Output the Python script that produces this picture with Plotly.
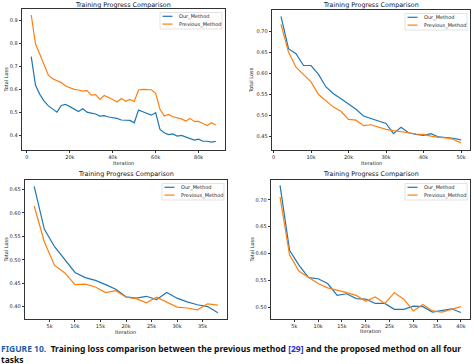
import plotly.graph_objects as go

W, H = 474, 364

# ---------------- data ----------------
p1_iter = [2000, 4000, 6000, 8000, 10000, 12000, 14000, 16000, 18000, 20000, 22000,
           24000, 26000, 28000, 30000, 32000, 34000, 36000, 38000, 40000, 42000, 44000,
           46000, 48000, 50000, 52000, 54000, 56000, 58000, 60000, 62000, 64000, 66000,
           68000, 70000, 72000, 74000, 76000, 78000, 80000, 82000, 84000, 86000, 88000]
p1_ours = [0.742, 0.617, 0.578, 0.549, 0.528, 0.516, 0.501, 0.530, 0.535, 0.525, 0.516,
           0.504, 0.516, 0.501, 0.497, 0.493, 0.484, 0.486, 0.480, 0.477, 0.474, 0.467,
           0.467, 0.465, 0.455, 0.510, 0.503, 0.496, 0.488, 0.499, 0.426, 0.412, 0.404,
           0.407, 0.397, 0.400, 0.393, 0.388, 0.380, 0.384, 0.375, 0.375, 0.371, 0.374]
p1_prev = [0.922, 0.796, 0.752, 0.704, 0.661, 0.646, 0.638, 0.629, 0.614, 0.607, 0.600,
           0.597, 0.592, 0.594, 0.575, 0.577, 0.556, 0.573, 0.566, 0.556, 0.545, 0.560,
           0.548, 0.556, 0.547, 0.597, 0.600, 0.600, 0.598, 0.583, 0.513, 0.484, 0.491,
           0.481, 0.477, 0.472, 0.462, 0.474, 0.461, 0.461, 0.452, 0.443, 0.455, 0.445]

p2_iter = [2000, 4000, 6000, 8000, 10000, 12000, 14000, 16000, 18000, 20000, 22000, 24000,
           26000, 28000, 30000, 32000, 34000, 36000, 38000, 40000, 42000, 44000, 46000,
           48000, 50000]
p2_ours = [0.735, 0.658, 0.646, 0.618, 0.618, 0.597, 0.567, 0.551, 0.539, 0.526, 0.514,
           0.498, 0.492, 0.486, 0.480, 0.456, 0.471, 0.458, 0.454, 0.452, 0.456, 0.448,
           0.447, 0.445, 0.441]
p2_prev = [0.716, 0.650, 0.614, 0.597, 0.579, 0.549, 0.535, 0.519, 0.509, 0.490, 0.488,
           0.475, 0.477, 0.472, 0.466, 0.463, 0.461, 0.458, 0.455, 0.454, 0.450, 0.447,
           0.446, 0.442, 0.434]

p3_iter = [2000, 4000, 6000, 8000, 10000, 12000, 14000, 16000, 18000, 20000, 22000, 24000,
           26000, 28000, 30000, 32000, 34000, 36000, 38000]
p3_ours = [0.657, 0.565, 0.528, 0.500, 0.473, 0.462, 0.456, 0.447, 0.437, 0.421, 0.418,
           0.422, 0.415, 0.430, 0.418, 0.410, 0.404, 0.400, 0.387]
p3_prev = [0.615, 0.538, 0.488, 0.472, 0.447, 0.448, 0.442, 0.430, 0.434, 0.420, 0.417,
           0.408, 0.420, 0.410, 0.399, 0.397, 0.393, 0.406, 0.403]

p4_iter = [2000, 4000, 6000, 8000, 10000, 12000, 14000, 16000, 18000, 20000, 22000, 24000,
           26000, 28000, 30000, 32000, 34000, 36000, 38000, 40000]
p4_ours = [0.727, 0.606, 0.578, 0.555, 0.553, 0.544, 0.522, 0.525, 0.516, 0.515, 0.507,
           0.507, 0.496, 0.496, 0.502, 0.501, 0.491, 0.494, 0.497, 0.490]
p4_prev = [0.705, 0.597, 0.567, 0.555, 0.544, 0.536, 0.532, 0.527, 0.522, 0.511, 0.519,
           0.507, 0.527, 0.515, 0.493, 0.505, 0.493, 0.491, 0.496, 0.501]

series_names = ["Our_Method", "Previous_Method"]
chart_title = "Training Progress Comparison"
x_label = "Iteration"
y_label = "Total Loss"

p1_xticks = [0, 20000, 40000, 60000, 80000]
p1_xtext = ["0", "20k", "40k", "60k", "80k"]
p2_xticks = [0, 10000, 20000, 30000, 40000, 50000]
p2_xtext = ["0", "10k", "20k", "30k", "40k", "50k"]
p3_xticks = [5000, 10000, 15000, 20000, 25000, 30000, 35000]
p3_xtext = ["5k", "10k", "15k", "20k", "25k", "30k", "35k"]
p4_xticks = [5000, 10000, 15000, 20000, 25000, 30000, 35000, 40000]
p4_xtext = ["5k", "10k", "15k", "20k", "25k", "30k", "35k", "40k"]
p1_yticks = [0.4, 0.5, 0.6, 0.7, 0.8, 0.9]
p2_yticks = [0.45, 0.50, 0.55, 0.60, 0.65, 0.70]
p3_yticks = [0.40, 0.45, 0.50, 0.55, 0.60, 0.65]
p4_yticks = [0.50, 0.55, 0.60, 0.65, 0.70]

caption_head = "FIGURE 10."
caption_body = "Training loss comparison between the previous method [29] and the proposed method on all four"
caption_tail = "tasks"

# ---------------- layout ----------------
BLUE = "#1f77b4"
ORANGE = "#ff7f0e"
FONT = "DejaVu Sans"


def fx(px):
    return px / W


def fy(py):
    return 1 - py / H


panels = [
    dict(it=p1_iter, a=p1_ours, b=p1_prev, box=(22, 225, 9, 150),
         xr=[-2300, 92300], yr=[0.337, 0.948], xt=p1_xticks, xtt=p1_xtext,
         yt=p1_yticks, yf=".1f", title_y=5, xl_y=163, yl_x=5),
    dict(it=p2_iter, a=p2_ours, b=p2_prev, box=(272, 470, 10, 150),
         xr=[-400, 52400], yr=[0.417, 0.750], xt=p2_xticks, xtt=p2_xtext,
         yt=p2_yticks, yf=".2f", title_y=5, xl_y=163, yl_x=251),
    dict(it=p3_iter, a=p3_ours, b=p3_prev, box=(25, 227, 180, 319),
         xr=[200, 39800], yr=[0.3735, 0.6705], xt=p3_xticks, xtt=p3_xtext,
         yt=p3_yticks, yf=".2f", title_y=174, xl_y=331.5, yl_x=5),
    dict(it=p4_iter, a=p4_ours, b=p4_prev, box=(271, 470, 180, 319),
         xr=[100, 41900], yr=[0.478, 0.737], xt=p4_xticks, xtt=p4_xtext,
         yt=p4_yticks, yf=".2f", title_y=173.5, xl_y=331, yl_x=251),
]

fig = go.Figure()
layout = dict(width=W, height=H, margin=dict(l=0, r=0, t=0, b=0),
              paper_bgcolor="white", plot_bgcolor="white", showlegend=False)
annotations = []
shapes = []

for i, p in enumerate(panels, start=1):
    sfx = "" if i == 1 else str(i)
    xa, ya = "x" + sfx, "y" + sfx
    fig.add_trace(go.Scatter(x=p["it"], y=p["a"], mode="lines", name=series_names[0],
                             line=dict(color=BLUE, width=1.2), xaxis=xa, yaxis=ya))
    fig.add_trace(go.Scatter(x=p["it"], y=p["b"], mode="lines", name=series_names[1],
                             line=dict(color=ORANGE, width=1.2), xaxis=xa, yaxis=ya))
    l, r, t, b = p["box"]
    common = dict(showline=True, mirror=True, linecolor="#333", linewidth=0.8,
                  ticks="outside", ticklen=2.5, tickwidth=0.6, tickcolor="#333",
                  showgrid=False, zeroline=False,
                  tickfont=dict(family=FONT, size=5, color="#222"))
    layout["xaxis" + sfx] = dict(common, domain=[fx(l), fx(r)], range=p["xr"],
                                 anchor=ya, tickvals=p["xt"], ticktext=p["xtt"])
    layout["yaxis" + sfx] = dict(common, domain=[fy(b), fy(t)], range=p["yr"],
                                 anchor=xa, tickvals=p["yt"], tickformat=p["yf"])
    cx = (l + r) / 2
    annotations.append(dict(text=chart_title, x=fx(cx), y=fy(p["title_y"]), xref="paper",
                            yref="paper", showarrow=False, xanchor="center", yanchor="middle",
                            font=dict(family=FONT, size=6.4, color="#111")))
    annotations.append(dict(text=x_label, x=fx(cx), y=fy(p["xl_y"]), xref="paper",
                            yref="paper", showarrow=False, xanchor="center", yanchor="middle",
                            font=dict(family=FONT, size=5, color="#222")))
    annotations.append(dict(text=y_label, x=fx(p["yl_x"]), y=fy((t + b) / 2), xref="paper",
                            yref="paper", showarrow=False, xanchor="center", yanchor="middle",
                            textangle=-90, font=dict(family=FONT, size=5, color="#222")))
    # legend box (upper right)
    bx1 = r - 3
    bx0 = bx1 - 62
    by0 = t + 3.5
    by1 = by0 + 16.5
    shapes.append(dict(type="rect", xref="paper", yref="paper", x0=fx(bx0), x1=fx(bx1),
                       y0=fy(by1), y1=fy(by0), line=dict(color="#d0d0d0", width=0.6),
                       fillcolor="rgba(255,255,255,0.8)"))
    for k, (nm, col) in enumerate(zip(series_names, [BLUE, ORANGE])):
        ry = by0 + 3.8 + k * 7.8
        shapes.append(dict(type="line", xref="paper", yref="paper", x0=fx(bx0 + 2.5),
                           x1=fx(bx0 + 12.5), y0=fy(ry), y1=fy(ry),
                           line=dict(color=col, width=1.2)))
        annotations.append(dict(text=nm, x=fx(bx0 + 16.5), y=fy(ry), xref="paper",
                                yref="paper", showarrow=False, xanchor="left",
                                yanchor="middle",
                                font=dict(family=FONT, size=5, color="#222")))

# caption (one two-line text block)
CAP_FONT = "Noto Sans"
CAP_SIZE = 8.5
body_html = caption_body.replace("[29]", "<span style='color:#2a35d0'>[29]</span>")
caption_html = ("<b><span style='color:#1f5fa8'>" + caption_head + "</span>&nbsp;&nbsp;"
                + body_html + "<br>" + caption_tail + "</b>")
annotations.append(dict(text=caption_html, x=fx(0), y=fy(354),
                        xref="paper", yref="paper", showarrow=False, xanchor="left",
                        yanchor="middle", align="left", borderpad=0,
                        font=dict(family=CAP_FONT, size=CAP_SIZE, color="#111")))

layout["annotations"] = annotations
layout["shapes"] = shapes
fig.update_layout(**layout)
fig.write_html("out.html", config={"displayModeBar": False},
               post_script="document.body.style.margin='0';document.body.style.overflow='hidden';")
